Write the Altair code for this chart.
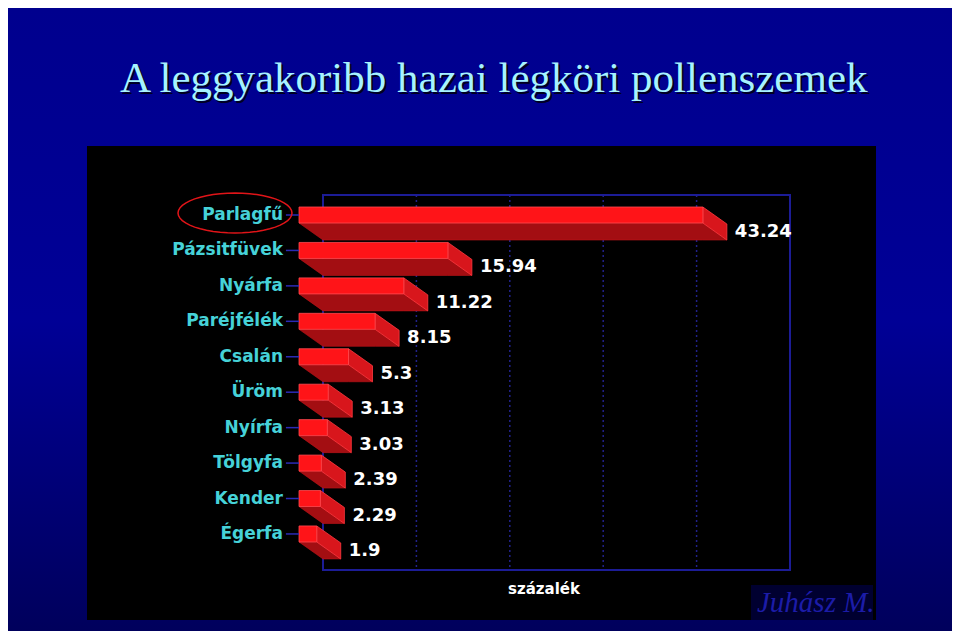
import math
import altair as alt
import pandas as pd

# ---- data ----
categories = ["Parlagfű", "Pázsitfüvek", "Nyárfa", "Paréjfélék", "Csalán",
              "Üröm", "Nyírfa", "Tölgyfa", "Kender", "Égerfa"]
values = [43.24, 15.94, 11.22, 8.15, 5.3, 3.13, 3.03, 2.39, 2.29, 1.9]
value_labels = ["43.24", "15.94", "11.22", "8.15", "5.3", "3.13", "3.03", "2.39", "2.29", "1.9"]
grid_ticks = [10, 20, 30, 40]
x_domain = [0, 50]

title_text = "A leggyakoribb hazai légköri pollenszemek"
x_title = "százalék"
author = "Juhász M."

# ---- 3D box geometry (in data units) ----
W, H_PLOT = 467, 375
DX = 24 * (x_domain[1] - x_domain[0]) / W   # depth along x
ROW_PX = 35.44
DY = 17 / ROW_PX                            # depth along y (rows)
HH = 8 / ROW_PX                             # half thickness of face
y_d0 = -37 / ROW_PX
y_domain = [y_d0, y_d0 + H_PLOT / ROW_PX]
slope = DY / DX

front, bottom, side, labels = [], [], [], []
for i, (c, v, lab) in enumerate(zip(categories, values, value_labels)):
    fc = i - DY
    ft, fb = fc - HH, fc + HH
    bb = fb + DY
    front.append(dict(cat=c, x0=-DX, x1=v - DX, y0=ft, y1=fb))
    for xx in sorted([-DX, v - DX, 0.0, v]):
        top = fb + max(0.0, xx - (v - DX)) * slope
        bot = min(bb, fb + (xx + DX) * slope)
        bottom.append(dict(cat=c, xa=xx, ya=top, yb=bot))
    side.append(dict(cat=c, xa=v - DX, ya=ft, yb=fb))
    side.append(dict(cat=c, xa=v, ya=ft + DY, yb=fb + DY))
    labels.append(dict(cat=c, v=v, lab=lab, fc=fc, bc=float(i), zero=0.0,
                       t0=-DX - 1.4, t1=-DX))

front_df = pd.DataFrame(front)
bottom_df = pd.DataFrame(bottom)
side_df = pd.DataFrame(side)
lab_df = pd.DataFrame(labels)
grid_df = pd.DataFrame({"t": grid_ticks})
one = pd.DataFrame({"a": [0]})

xs = alt.Scale(domain=x_domain, nice=False, zero=False)
ys = alt.Scale(domain=y_domain, nice=False, zero=False, reverse=True)

def X(f, **kw):
    return alt.X(f, scale=xs, axis=None, **kw)

def Y(f, **kw):
    return alt.Y(f, scale=ys, axis=None, **kw)

bg = alt.Chart(one).mark_rect(
    color={"gradient": "linear", "x1": 0, "y1": 0, "x2": 0, "y2": 1,
           "stops": [{"offset": 0, "color": "#00008e"},
                     {"offset": 0.5, "color": "#000096"},
                     {"offset": 1, "color": "#00005c"}]}
).encode(x=alt.value(-315), x2=alt.value(629), y=alt.value(-187), y2=alt.value(436))

panel = alt.Chart(one).mark_rect(color="#000000").encode(
    x=alt.value(-236), x2=alt.value(553), y=alt.value(-49), y2=alt.value(425))

author_box = alt.Chart(one).mark_rect(color="#000030").encode(
    x=alt.value(428), x2=alt.value(550), y=alt.value(390), y2=alt.value(425))

grid = alt.Chart(grid_df).mark_rule(color="#22228a", strokeDash=[2, 3], strokeWidth=1.5).encode(
    x=X("t:Q"), y=alt.value(0), y2=alt.value(H_PLOT))

frame = alt.Chart(one).mark_rect(fill=None, stroke="#1c1c96", strokeWidth=2).encode(
    x=alt.value(0), x2=alt.value(W), y=alt.value(0), y2=alt.value(H_PLOT))

bottom_faces = alt.Chart(bottom_df).mark_area(color="#a30e12", stroke="#c0141a",
                                              strokeWidth=0.6).encode(
    x=X("xa:Q"), y=Y("ya:Q"), y2="yb:Q", detail="cat:N")

side_faces = alt.Chart(side_df).mark_area(color="#d8161c", stroke="#ff3a40",
                                          strokeWidth=0.8).encode(
    x=X("xa:Q"), y=Y("ya:Q"), y2="yb:Q", detail="cat:N")

front_faces = alt.Chart(front_df).mark_rect(color="#ff1418", stroke="#ff4a50", strokeWidth=0.8).encode(
    x=X("x0:Q"), x2="x1:Q", y=Y("y0:Q"), y2="y1:Q")

ticks = alt.Chart(lab_df).mark_rule(color="#2a2ab4", strokeWidth=1.5).encode(
    x=X("t0:Q"), x2="t1:Q", y=Y("fc:Q"))

cat_text = alt.Chart(lab_df).mark_text(
    align="right", baseline="middle", dx=-40, font="DejaVu Sans", fontSize=17,
    fontWeight="bold", color="#46d2d8").encode(
    x=X("zero:Q"), y=Y("fc:Q"), text="cat:N")

val_text = alt.Chart(lab_df).mark_text(
    align="left", baseline="middle", dx=8, font="DejaVu Sans", fontSize=18,
    fontWeight="bold", color="#ffffff").encode(
    x=X("v:Q"), y=Y("bc:Q"), text="lab:N")

xlab = alt.Chart(one).mark_text(
    text=x_title, align="center", baseline="middle", font="DejaVu Sans", fontSize=15,
    fontWeight="bold", color="#ffffff").encode(x=alt.value(221), y=alt.value(394))

pts = []
for k in range(49):
    a = 2 * math.pi * k / 48
    pts.append(f"{math.cos(a):.4f} {0.35 * math.sin(a):.4f}")
ellipse_path = "M " + " L ".join(pts) + " Z"
ellipse = alt.Chart(one).mark_point(shape=ellipse_path, size=114 * 114, filled=False,
                                    stroke="#e01418", strokeWidth=1.5, opacity=1).encode(
    x=alt.value(-88), y=alt.value(18))

title_shadow = alt.Chart(one).mark_text(
    text=title_text, align="left", baseline="alphabetic", font="Liberation Serif",
    fontSize=43, color="#000020").encode(x=alt.value(-201), y=alt.value(-101))
title_main = alt.Chart(one).mark_text(
    text=title_text, align="left", baseline="alphabetic", font="Liberation Serif",
    fontSize=43, color="#a6f2ff").encode(x=alt.value(-203), y=alt.value(-103))

author_text = alt.Chart(one).mark_text(
    text=author, align="left", baseline="alphabetic", font="Liberation Serif",
    fontSize=29, fontStyle="italic", color="#1c1ca8").encode(x=alt.value(434), y=alt.value(417))

chart = alt.layer(
    bg, panel, author_box, grid, frame, bottom_faces, side_faces, front_faces,
    ticks, cat_text, val_text, xlab, ellipse, title_shadow, title_main, author_text
).properties(
    width=W, height=H_PLOT,
    autosize=alt.AutoSizeParams(type="none"),
    padding={"left": 315, "top": 187, "right": 162, "bottom": 61},
    background="#000080",
).configure_view(stroke=None)

chart.save("out.html", embed_options={"renderer": "svg", "actions": False})
